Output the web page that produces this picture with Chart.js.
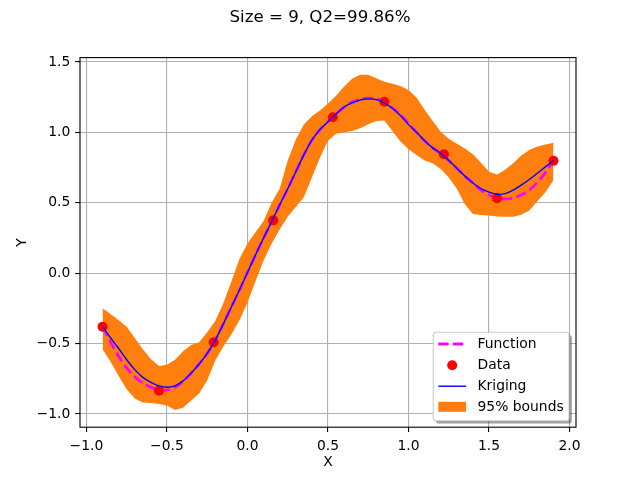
<!DOCTYPE html>
<html><head><meta charset="utf-8">
<script src="https://cdn.jsdelivr.net/npm/chart.js@4.4.0/dist/chart.umd.min.js"></script>
<style>html,body{margin:0;padding:0;background:#fff;}canvas{display:block;}</style>
</head><body>
<canvas id="c" width="640" height="480"></canvas>
<script>
const titleText = 'Size = 9, Q2=99.86%';
const xAxisLabel = 'X';
const yAxisLabel = 'Y';
const xTickValues = [-1.0, -0.5, 0.0, 0.5, 1.0, 1.5, 2.0];
const yTickValues = [-1.0, -0.5, 0.0, 0.5, 1.0, 1.5];
const legendLabels = ['Function', 'Data', 'Kriging', '95% bounds'];

const dataX = [-0.90, -0.55, -0.21, 0.16, 0.53, 0.85, 1.22, 1.55, 1.90];
const dataY = [-0.380, -0.835, -0.491, 0.375, 1.107, 1.218, 0.844, 0.532, 0.799];

const xGrid = [-0.90,-0.85,-0.80,-0.75,-0.70,-0.65,-0.60,-0.55,-0.50,-0.45,-0.40,-0.35,-0.30,-0.25,-0.20,-0.15,-0.10,-0.05,0.00,0.05,0.10,0.15,0.20,0.25,0.30,0.35,0.40,0.45,0.50,0.55,0.60,0.65,0.70,0.75,0.80,0.85,0.90,0.95,1.00,1.05,1.10,1.15,1.20,1.25,1.30,1.35,1.40,1.45,1.50,1.55,1.60,1.65,1.70,1.75,1.80,1.85,1.90];

const krigingY = [-0.38,-0.46,-0.535,-0.615,-0.685,-0.74,-0.775,-0.80,-0.81,-0.80,-0.765,-0.71,-0.645,-0.57,-0.475,-0.36,-0.24,-0.12,0.005,0.13,0.25,0.365,0.485,0.60,0.72,0.84,0.945,1.02,1.075,1.13,1.18,1.21,1.23,1.238,1.232,1.21,1.17,1.12,1.055,1.0,0.94,0.89,0.85,0.80,0.745,0.69,0.64,0.60,0.575,0.56,0.565,0.59,0.625,0.665,0.71,0.755,0.80];

const functionY = [-0.38,-0.49,-0.59,-0.675,-0.735,-0.78,-0.81,-0.83,-0.83,-0.81,-0.77,-0.71,-0.645,-0.57,-0.475,-0.36,-0.24,-0.12,0.005,0.13,0.25,0.365,0.485,0.60,0.72,0.84,0.945,1.02,1.075,1.13,1.18,1.215,1.235,1.243,1.237,1.215,1.175,1.125,1.065,1.0,0.94,0.89,0.85,0.80,0.745,0.69,0.64,0.59,0.555,0.535,0.527,0.535,0.555,0.59,0.645,0.715,0.80];

const upperY = [-0.25,-0.29,-0.335,-0.38,-0.46,-0.54,-0.61,-0.66,-0.65,-0.615,-0.555,-0.51,-0.49,-0.42,-0.34,-0.214,-0.06,0.10,0.21,0.29,0.37,0.50,0.60,0.80,0.95,1.055,1.115,1.155,1.205,1.26,1.325,1.38,1.41,1.41,1.385,1.36,1.345,1.33,1.30,1.245,1.16,1.08,1.005,0.955,0.92,0.885,0.845,0.785,0.72,0.70,0.735,0.78,0.835,0.875,0.90,0.913,0.927];

const lowerY = [-0.54,-0.63,-0.73,-0.825,-0.89,-0.918,-0.923,-0.93,-0.94,-0.972,-0.955,-0.905,-0.855,-0.76,-0.62,-0.52,-0.435,-0.335,-0.21,-0.055,0.09,0.21,0.31,0.40,0.47,0.54,0.68,0.82,0.94,0.99,1.00,1.01,1.03,1.058,1.08,1.085,1.01,0.935,0.88,0.84,0.80,0.78,0.74,0.68,0.60,0.49,0.42,0.413,0.41,0.403,0.40,0.40,0.415,0.445,0.51,0.575,0.66];

const FONT = 'DejaVu Sans';
const FS = 13.89;
const pts = (xs, ys) => xs.map((x, i) => ({x: x, y: ys[i]}));
const fmt = v => Number(v).toFixed(1).replace('-', '\u2212');

function rrect(ctx, x, y, w, h, r) {
  ctx.beginPath();
  ctx.moveTo(x + r, y);
  ctx.lineTo(x + w - r, y);
  ctx.quadraticCurveTo(x + w, y, x + w, y + r);
  ctx.lineTo(x + w, y + h - r);
  ctx.quadraticCurveTo(x + w, y + h, x + w - r, y + h);
  ctx.lineTo(x + r, y + h);
  ctx.quadraticCurveTo(x, y + h, x, y + h - r);
  ctx.lineTo(x, y + r);
  ctx.quadraticCurveTo(x, y, x + r, y);
  ctx.closePath();
}

const decorPlugin = {
  id: 'decor',
  afterDatasetsDraw(chart) {
    const {ctx, chartArea: a} = chart;
    ctx.save();
    ctx.strokeStyle = '#000';
    ctx.lineWidth = 1.11;
    ctx.strokeRect(a.left, a.top, a.right - a.left, a.bottom - a.top);
    ctx.restore();
  },
  afterDraw(chart) {
    const ctx = chart.ctx;
    ctx.save();
    ctx.fillStyle = '#000';
    ctx.font = '16.67px "' + FONT + '"';
    ctx.textAlign = 'center';
    ctx.textBaseline = 'alphabetic';
    ctx.fillText(titleText, 320, 22);
    const bx = 433.3, by = 332.3, bw = 135.7, bh = 88.4, r = 2.8;
    rrect(ctx, bx + 2.8, by + 2.8, bw, bh, r);
    ctx.fillStyle = 'rgba(0,0,0,0.38)';
    ctx.fill();
    rrect(ctx, bx, by, bw, bh, r);
    ctx.fillStyle = '#ffffff';
    ctx.fill();
    ctx.strokeStyle = '#cccccc';
    ctx.lineWidth = 1.11;
    ctx.stroke();
    const hx0 = 438.3, hx1 = 466.1, tx = 477.5;
    const rows = [344.0, 365.2, 386.2, 406.8];
    ctx.beginPath();
    ctx.setLineDash([10.3, 4.4]);
    ctx.strokeStyle = '#ff00ff';
    ctx.lineWidth = 2.78;
    ctx.moveTo(hx0, rows[0]); ctx.lineTo(hx1, rows[0]);
    ctx.stroke();
    ctx.setLineDash([]);
    ctx.beginPath();
    ctx.fillStyle = '#ff0000';
    ctx.arc((hx0 + hx1) / 2, rows[1], 5, 0, Math.PI * 2);
    ctx.fill();
    ctx.beginPath();
    ctx.strokeStyle = '#0000ff';
    ctx.lineWidth = 1.39;
    ctx.moveTo(hx0, rows[2]); ctx.lineTo(hx1, rows[2]);
    ctx.stroke();
    ctx.fillStyle = '#ff7f0e';
    ctx.fillRect(hx0, rows[3] - 5, hx1 - hx0, 10);
    ctx.fillStyle = '#000';
    ctx.font = FS + 'px "' + FONT + '"';
    ctx.textAlign = 'left';
    ctx.textBaseline = 'middle';
    legendLabels.forEach((t, i) => ctx.fillText(t, tx, rows[i] + 0.5));
    ctx.restore();
  }
};

new Chart(document.getElementById('c'), {
  type: 'line',
  data: {
    datasets: [
      {label: 'Kriging', data: pts(xGrid, krigingY), borderColor: '#0000ff', borderWidth: 1.39,
       pointRadius: 0, tension: 0.3, fill: false, order: 0},
      {label: 'Data', data: pts(dataX, dataY), showLine: false, pointRadius: 5,
       pointBackgroundColor: '#ff0000', pointBorderWidth: 0, borderColor: '#ff0000', backgroundColor: '#ff0000', order: 1},
      {label: 'Function', data: pts(xGrid, functionY), borderColor: '#ff00ff', borderWidth: 2.78,
       borderDash: [10.3, 4.4], pointRadius: 0, tension: 0.3, fill: false, order: 2},
      {label: '95% bounds', data: pts(xGrid, upperY), borderWidth: 0, borderColor: 'rgba(0,0,0,0)',
       backgroundColor: '#ff7f0e', pointRadius: 0, tension: 0, fill: '+1', order: 3},
      {label: 'lower', data: pts(xGrid, lowerY), borderWidth: 0, borderColor: 'rgba(0,0,0,0)',
       pointRadius: 0, tension: 0, fill: false, order: 4}
    ]
  },
  options: {
    responsive: false,
    animation: false,
    devicePixelRatio: 1,
    layout: {padding: {top: 57.6, right: 64, left: 0, bottom: 0}},
    plugins: {legend: {display: false}, tooltip: {enabled: false}, title: {display: false}},
    scales: {
      x: {
        type: 'linear', min: -1.04, max: 2.04,
        afterBuildTicks: s => { s.ticks = xTickValues.map(v => ({value: v})); },
        afterFit: s => { s.height = 52.8; },
        ticks: {font: {family: FONT, size: FS}, color: '#000', padding: 6, maxRotation: 0, autoSkip: false, callback: v => fmt(v)},
        grid: {color: '#b0b0b0', lineWidth: 1.11, tickLength: 4.86, tickColor: '#000', tickWidth: 1.11},
        border: {display: false},
        title: {display: true, text: xAxisLabel, font: {family: FONT, size: FS}, color: '#000', padding: {top: 0, bottom: 9.2}}
      },
      y: {
        type: 'linear', min: -1.094, max: 1.531,
        afterBuildTicks: s => { s.ticks = yTickValues.map(v => ({value: v})); },
        afterFit: s => { s.width = 80; },
        ticks: {font: {family: FONT, size: FS}, color: '#000', padding: 4.9, autoSkip: false, callback: v => fmt(v)},
        grid: {color: '#b0b0b0', lineWidth: 1.11, tickLength: 4.86, tickColor: '#000', tickWidth: 1.11},
        border: {display: false},
        title: {display: true, text: yAxisLabel, font: {family: FONT, size: FS}, color: '#000', padding: {top: 14, bottom: 0}}
      }
    }
  },
  plugins: [decorPlugin]
});
</script>
</body></html>
